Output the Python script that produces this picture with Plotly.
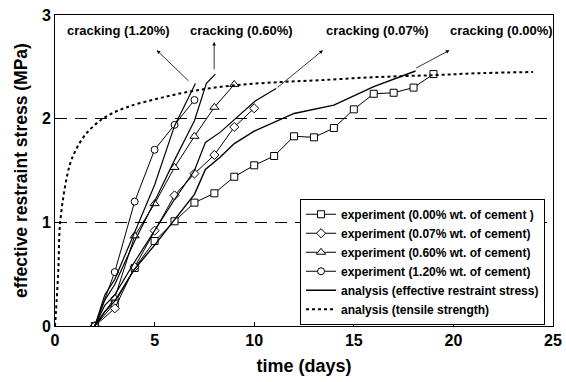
import plotly.graph_objects as go

# ---- experiment data ----
t_exp000 = [2, 3, 4, 5, 6, 7, 8, 9, 10, 11, 12, 13, 14, 15, 16, 17, 18, 19]
v_exp000 = [0, 0.22, 0.56, 0.82, 1.01, 1.19, 1.28, 1.44, 1.55, 1.64, 1.83, 1.82, 1.91, 2.09, 2.24, 2.25, 2.30, 2.43]
t_exp007 = [2, 3, 4, 5, 6, 7, 8, 9, 10]
v_exp007 = [0, 0.17, 0.57, 0.92, 1.26, 1.47, 1.65, 1.92, 2.10]
t_exp060 = [2, 3, 4, 5, 6, 7, 8, 9]
v_exp060 = [0, 0.27, 0.87, 1.18, 1.53, 1.83, 2.11, 2.33]
t_exp120 = [2, 3, 4, 5, 6, 7]
v_exp120 = [0, 0.52, 1.20, 1.70, 1.94, 2.18]

# ---- analysis: effective restraint stress ----
t_an120 = [2, 2.5, 3, 4, 5, 6, 7.05]
v_an120 = [0, 0.3, 0.45, 0.9, 1.36, 1.93, 2.34]
t_an060 = [2, 2.5, 3, 4, 5, 6, 7, 7.6, 8.05]
v_an060 = [0, 0.25, 0.4, 0.82, 1.2, 1.6, 1.98, 2.34, 2.43]
t_an007 = [2, 2.5, 3, 4, 5, 6, 7, 7.55, 8.3, 10.05, 11.1]
v_an007 = [0, 0.2, 0.3, 0.62, 0.92, 1.22, 1.5, 1.77, 1.87, 2.17, 2.29]
t_an000 = [2, 2.5, 3, 4, 5, 6, 7, 7.55, 8.3, 9, 10, 12, 14, 16, 18.1]
v_an000 = [0, 0.14, 0.24, 0.55, 0.78, 1.03, 1.27, 1.51, 1.63, 1.76, 1.88, 2.05, 2.13, 2.31, 2.46]

# ---- analysis: tensile strength ----
t_ten = [0, 0.05, 0.17, 0.25, 0.5, 0.75, 1.0, 1.5, 2.4, 3.6, 5.3, 7, 8.9, 11, 13.2, 16, 19, 21.5, 24]
v_ten = [0, 0.14, 0.56, 0.98, 1.34, 1.56, 1.68, 1.84, 2.0, 2.11, 2.2, 2.27, 2.32, 2.35, 2.37, 2.4, 2.42, 2.44, 2.45]

# ---- cracking annotations ----
crack_labels = ["cracking (1.20%)", "cracking (0.60%)", "cracking (0.07%)", "cracking (0.00%)"]
crack_text_x = [3.17, 9.38, 16.2, 22.4]
crack_tail_x = [6.78, 7.99, 11.1, 18.05]
crack_tail_y = [2.35, 2.46, 2.29, 2.48]
crack_head_x = [5.11, 7.99, 13.45, 19.8]
crack_head_y = [2.66, 2.74, 2.66, 2.66]

FONT = "Liberation Sans, Arial, Helvetica, sans-serif"

fig = go.Figure()

def exp_trace(t, v, sym, size, name):
    return go.Scatter(x=t, y=v, mode="lines+markers", name=name,
                      line=dict(color="black", width=1),
                      marker=dict(symbol=sym, size=size, color="white",
                                  line=dict(color="black", width=1)))

fig.add_trace(exp_trace(t_exp000, v_exp000, "square", 7, "experiment (0.00% wt. of cement )"))
fig.add_trace(exp_trace(t_exp007, v_exp007, "diamond", 7, "experiment (0.07% wt. of cement)"))
fig.add_trace(exp_trace(t_exp060, v_exp060, "triangle-up", 8, "experiment (0.60% wt. of cement)"))
fig.add_trace(exp_trace(t_exp120, v_exp120, "circle", 7, "experiment (1.20% wt. of cement)"))

for i, (t, v) in enumerate([(t_an000, v_an000), (t_an007, v_an007), (t_an060, v_an060), (t_an120, v_an120)]):
    fig.add_trace(go.Scatter(x=t, y=v, mode="lines", name="analysis (effective restraint stress)",
                             legendgroup="an", showlegend=(i == 0),
                             line=dict(color="black", width=1.4 if i == 0 else 1.2)))

fig.add_trace(go.Scatter(x=t_ten, y=v_ten, mode="lines", name="analysis (tensile strength)",
                         line=dict(color="black", width=2, dash="dot", shape="spline")))

for lab, tx, hx, hy, ax_, ay_ in zip(crack_labels, crack_text_x, crack_head_x, crack_head_y, crack_tail_x, crack_tail_y):
    fig.add_annotation(x=tx, y=2.85, text=lab, showarrow=False,
                       font=dict(size=13, family=FONT, color="black", weight="bold"))
    fig.add_annotation(x=hx, y=hy, ax=ax_, ay=ay_, axref="x", ayref="y", text="",
                       showarrow=True, arrowhead=2, arrowsize=0.9, arrowwidth=0.8, arrowcolor="black")

fig.update_layout(
    width=566, height=382,
    margin=dict(l=55, r=13, t=15, b=56),
    paper_bgcolor="white", plot_bgcolor="white",
    font=dict(family=FONT, color="black", weight="bold"),
    showlegend=True,
    legend=dict(x=0.492, y=0.004, xanchor="left", yanchor="bottom",
                bgcolor="white", bordercolor="black", borderwidth=1,
                font=dict(size=12, family=FONT, color="black", weight="bold"),
                tracegroupgap=0, itemwidth=30),
    xaxis=dict(range=[0, 25], dtick=5, showgrid=False, zeroline=False, automargin=False,
               showline=True, linecolor="black", linewidth=1, mirror=True,
               ticks="inside", ticklen=4, tickcolor="black",
               tickfont=dict(size=16, family=FONT, weight="bold"),
               title=dict(text="time (days)", font=dict(size=18, family=FONT, weight="bold"), standoff=11)),
    yaxis=dict(range=[0, 3], dtick=1, showgrid=True, gridcolor="black", gridwidth=1,
               griddash="12px,8px", zeroline=False, automargin=False,
               showline=True, linecolor="black", linewidth=1, mirror=True,
               ticks="inside", ticklen=4, tickcolor="black",
               tickfont=dict(size=16, family=FONT, weight="bold"),
               title=dict(text="effective restraint stress (MPa)", font=dict(size=17.5, family=FONT, weight="bold"), standoff=9)),
)

fig.write_html("out.html")
